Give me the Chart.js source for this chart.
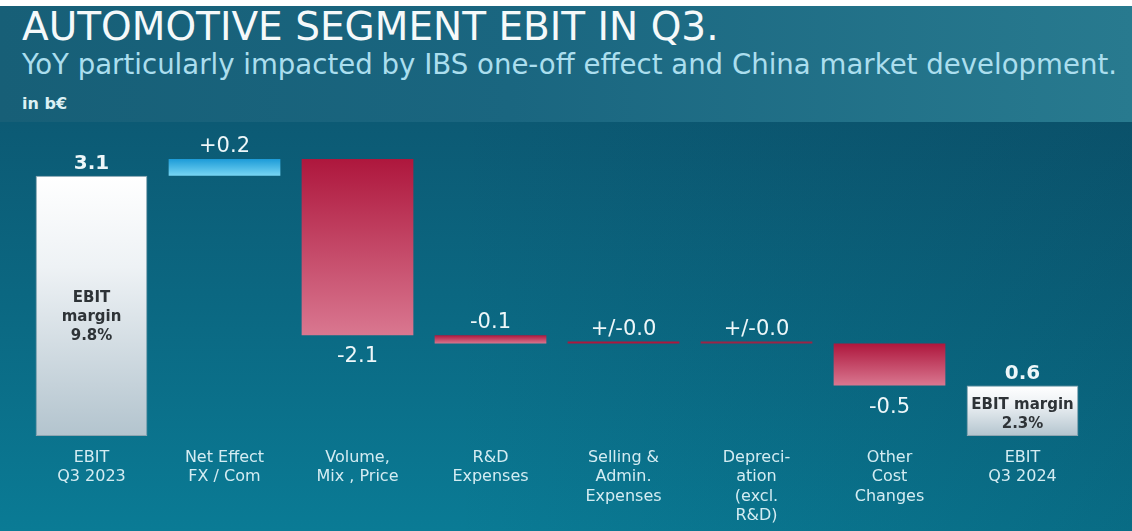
<!DOCTYPE html>
<html>
<head>
<meta charset="utf-8">
<script src="https://cdn.jsdelivr.net/npm/chart.js@4.4.1/dist/chart.umd.min.js"></script>
<style>
  html, body { margin: 0; padding: 0; }
  body {
    width: 1132px; height: 531px; overflow: hidden; position: relative;
    background: #ffffff;
    font-family: 'DejaVu Sans', sans-serif;
  }
  #head {
    position: absolute; left: 0; top: 6px; width: 1132px; height: 116px;
    background: linear-gradient(90deg, #175f77 0%, #1a6680 45%, #287a8f 100%);
  }
  #body {
    position: absolute; left: 0; top: 122px; width: 1132px; height: 409px;
    background:
      linear-gradient(90deg, rgba(0,0,0,0) 40%, rgba(3,40,60,0.18) 100%),
      linear-gradient(180deg, #0c5a74 0%, #0b6882 45%, #0a7b95 100%);
  }
  .txt { position: absolute; left: 22px; white-space: nowrap; line-height: 1; }
  #title { top: 7px; font-size: 39px; color: #f5f9fa; }
  #subtitle { top: 51px; font-size: 27.6px; color: #abdeee; }
  #unit { top: 96px; font-size: 16px; font-weight: bold; color: #dcf0f4; }
  #chart { position: absolute; left: 0; top: 0; }
</style>
</head>
<body>
<div id="head"></div>
<div id="body"></div>
<div class="txt" id="title">AUTOMOTIVE SEGMENT EBIT IN Q3.</div>
<div class="txt" id="subtitle">YoY particularly impacted by IBS one-off effect and China market development.</div>
<div class="txt" id="unit">in b€</div>
<canvas id="chart" width="1132" height="545"></canvas>
<script>
// EBIT bridge, Q3 2023 -> Q3 2024, in b€
const categories = [
  ["EBIT", "Q3 2023"],
  ["Net Effect", "FX / Com"],
  ["Volume,", "Mix , Price"],
  ["R&D", "Expenses"],
  ["Selling &", "Admin.", "Expenses"],
  ["Depreci-", "ation", "(excl.", "R&D)"],
  ["Other", "Cost", "Changes"],
  ["EBIT", "Q3 2024"]
];
const steps = [3.1, 0.2, -2.1, -0.1, 0.0, 0.0, -0.5, 0.6];
const isTotal = [true, false, false, false, false, false, false, true];
const valueLabels = ["3.1", "+0.2", "-2.1", "-0.1", "+/-0.0", "+/-0.0", "-0.5", "0.6"];
const marginLabels = [["EBIT", "margin", "9.8%"], null, null, null, null, null, null, ["EBIT margin", "2.3%"]];

const FONT = '"DejaVu Sans"';

// turn steps into floating [from, to] bars
let running = 0;
const bars = steps.map((v, i) => {
  if (isTotal[i]) { running = v; return [0, v]; }
  const from = running;
  running = +(running + v).toFixed(2);
  return [from, running];
});

function barFill(ctx) {
  if (ctx.type !== 'data') return '#ffffff';
  const chart = ctx.chart;
  if (!chart.chartArea) return '#ffffff';
  const i = ctx.dataIndex;
  const y = chart.scales.y;
  const top = y.getPixelForValue(Math.max(...bars[i]));
  const bottom = y.getPixelForValue(Math.min(...bars[i]));
  const g = chart.ctx.createLinearGradient(0, top, 0, Math.max(bottom, top + 1));
  if (isTotal[i]) {
    g.addColorStop(0, '#ffffff');
    g.addColorStop(0.35, '#eef2f5');
    g.addColorStop(1, '#b3c4ce');
  } else if (steps[i] > 0) {
    g.addColorStop(0, '#1c9bd8');
    g.addColorStop(1, '#78d6f3');
  } else if (steps[i] === 0 && i === 5) {
    g.addColorStop(0, '#9c2446');
    g.addColorStop(1, '#9c2446');
  } else {
    g.addColorStop(0, '#ae173d');
    g.addColorStop(1, '#d97790');
  }
  return g;
}

const labelPlugin = {
  id: 'bridgeLabels',
  afterDatasetsDraw(chart) {
    const c = chart.ctx;
    const meta = chart.getDatasetMeta(0);
    c.save();
    c.textAlign = 'center';
    meta.data.forEach((bar, i) => {
      const top = Math.min(bar.y, bar.base);
      const bottom = Math.max(bar.y, bar.base);
      c.fillStyle = '#eef7f9';
      c.font = isTotal[i] ? 'bold 20px ' + FONT : '21px ' + FONT;
      c.textBaseline = 'alphabetic';
      if (steps[i] <= -0.5) {
        c.fillText(valueLabels[i], bar.x, bottom + 27);
      } else {
        c.fillText(valueLabels[i], bar.x, top - 7);
      }
      const m = marginLabels[i];
      if (m) {
        c.fillStyle = '#2e3337';
        c.font = 'bold 15px ' + FONT;
        c.textBaseline = 'middle';
        const lh = 19;
        const mid = (top + bottom) / 2 + (bottom - top) * 0.035 + 2;
        m.forEach((line, k) => {
          c.fillText(line, bar.x, mid + (k - (m.length - 1) / 2) * lh);
        });
      }
    });
    c.restore();
  }
};

new Chart(document.getElementById('chart'), {
  type: 'bar',
  data: {
    labels: categories,
    datasets: [{
      data: bars,
      backgroundColor: barFill,
      borderColor: ctx => isTotal[ctx.dataIndex] ? '#8ea5b1' : 'rgba(0,0,0,0)',
      borderWidth: ctx => isTotal[ctx.dataIndex] ? 1 : 0,
      borderSkipped: false,
      minBarLength: 2,
      categoryPercentage: 1,
      barPercentage: 0.84
    }]
  },
  options: {
    responsive: false,
    devicePixelRatio: 1,
    animation: false,
    layout: { padding: { left: 25, right: 43, top: 159, bottom: 7 } },
    plugins: { legend: { display: false }, tooltip: { enabled: false } },
    scales: {
      x: {
        grid: { display: false, drawTicks: false },
        border: { display: false },
        ticks: {
          color: '#d4ecf2',
          padding: 12,
          maxRotation: 0,
          autoSkip: false,
          font: { family: 'DejaVu Sans', size: 16, lineHeight: 1.22 }
        }
      },
      y: {
        display: false,
        min: 0,
        max: 3.3
      }
    }
  },
  plugins: [labelPlugin]
});
</script>
</body>
</html>
